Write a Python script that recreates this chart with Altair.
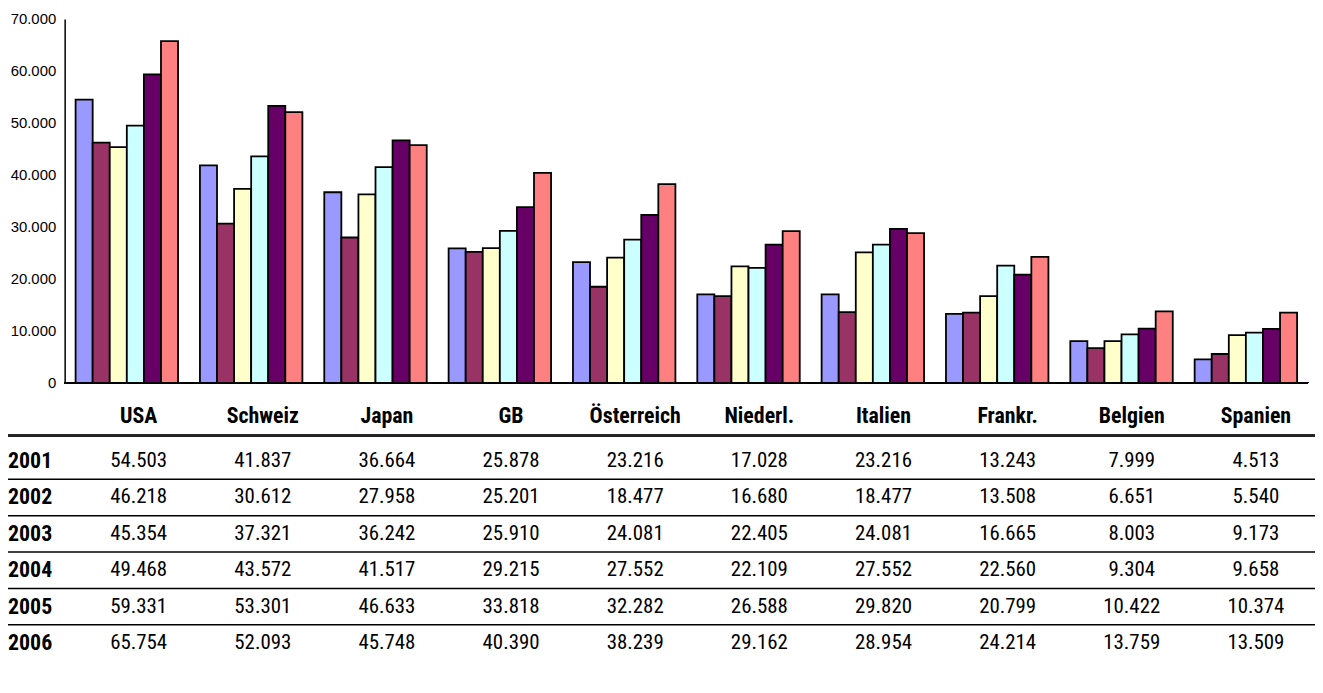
import altair as alt
import pandas as pd

countries = ["USA", "Schweiz", "Japan", "GB", "Österreich", "Niederl.",
             "Italien", "Frankr.", "Belgien", "Spanien"]
years = ["2001", "2002", "2003", "2004", "2005", "2006"]
colors = ["#9999FF", "#993366", "#FFFFCC", "#CCFFFF", "#660066", "#FF8080"]

# values printed in the table
t2001 = [54503, 41837, 36664, 25878, 23216, 17028, 23216, 13243, 7999, 4513]
t2002 = [46218, 30612, 27958, 25201, 18477, 16680, 18477, 13508, 6651, 5540]
t2003 = [45354, 37321, 36242, 25910, 24081, 22405, 24081, 16665, 8003, 9173]
t2004 = [49468, 43572, 41517, 29215, 27552, 22109, 27552, 22560, 9304, 9658]
t2005 = [59331, 53301, 46633, 33818, 32282, 26588, 29820, 20799, 10422, 10374]
t2006 = [65754, 52093, 45748, 40390, 38239, 29162, 28954, 24214, 13759, 13509]
table_vals = [t2001, t2002, t2003, t2004, t2005, t2006]

# bar heights as drawn (Italien bars differ from the printed table)
italien_bars = [17000, 13600, 25100, 26600, 29600, 28800]

y_ticks = [0, 10000, 20000, 30000, 40000, 50000, 60000, 70000]

NARROW = "Liberation Sans Narrow, Arial Narrow, Roboto Condensed, Liberation Sans, sans-serif"


def de(v):
    return f"{v:,}".replace(",", ".")


bar_rows = []
cell_rows = []
for yi, yr in enumerate(years):
    for ci, c in enumerate(countries):
        val = table_vals[yi][ci]
        bar_val = italien_bars[yi] if c == "Italien" else val
        bar_rows.append({"country": c, "year": yr, "value": bar_val})
        cell_rows.append({"country": c, "row": yr, "label": de(val)})
bars_df = pd.DataFrame(bar_rows)
cells_df = pd.DataFrame(cell_rows)
hdr_df = pd.DataFrame({"country": countries})
rowlab_df = pd.DataFrame({"row": years})
rules_df = pd.DataFrame({"row": years[1:]})

W = 1251
H = 659

yscale_bars = alt.Scale(domain=[0, 70000], range=[366, 0], nice=False)

bars = alt.Chart(bars_df).mark_bar(stroke="black", strokeWidth=1.8).encode(
    x=alt.X("country:N", sort=countries, axis=None,
            scale=alt.Scale(paddingInner=0.176, paddingOuter=0.088)),
    xOffset=alt.XOffset("year:N", sort=years, scale=alt.Scale(paddingInner=0, paddingOuter=0)),
    y=alt.Y("value:Q", scale=yscale_bars,
            axis=alt.Axis(values=y_ticks, title=None, ticks=False, grid=False,
                          domainColor="black", domainWidth=1.5,
                          labelExpr="replace(format(datum.value, ','), ',', '.')",
                          labelFont="Liberation Sans", labelFontSize=15,
                          labelColor="black", labelPadding=9)),
    color=alt.Color("year:N", scale=alt.Scale(domain=years, range=colors), legend=None),
)

baseline = alt.Chart(bars_df).mark_rule(color="black", strokeWidth=1.5).encode(
    y=alt.datum(0)
)

top = alt.layer(bars, baseline)

xs_table = alt.Scale(domain=countries, range=[12, 1261], paddingInner=0, paddingOuter=0)
ys_table = alt.Scale(domain=years, range=[426.5, 646.1], paddingInner=0, paddingOuter=0)

cells = alt.Chart(cells_df).mark_text(font=NARROW, fontSize=21, color="black").encode(
    x=alt.X("country:N", sort=countries, axis=None, scale=xs_table),
    y=alt.Y("row:N", axis=None, scale=ys_table),
    text="label:N",
)

header = alt.Chart(hdr_df).mark_text(font=NARROW, fontSize=22, fontWeight="bold",
                                     color="black").encode(
    x=alt.X("country:N", sort=countries, axis=None, scale=xs_table),
    y=alt.value(399),
    text="country:N",
)

header_line = alt.Chart(hdr_df).mark_rule(color="#222222", strokeWidth=2.2).encode(
    x=alt.value(-57),
    x2=alt.value(W + 7),
    y=alt.value(419.5),
)

rowlabels = alt.Chart(rowlab_df).mark_text(font=NARROW, fontSize=22, fontWeight="bold",
                                           color="black", align="left").encode(
    x=alt.value(-57),
    y=alt.Y("row:N", axis=None, scale=ys_table),
    text="row:N",
)

rules = alt.Chart(rules_df).mark_rule(color="black", strokeWidth=1.5).encode(
    x=alt.value(-57),
    x2=alt.value(W + 7),
    y=alt.Y("row:N", axis=None, scale=ys_table, bandPosition=0),
)

table = alt.layer(header_line, rules, cells, header, rowlabels)

chart = alt.layer(top, table).resolve_scale(x="independent", y="independent").properties(
    width=W, height=H,
    background="white",
    autosize=alt.AutoSizeParams(type="none"),
    padding={"left": 57, "top": 9, "right": 7, "bottom": 9},
).configure_view(stroke=None)

chart.save("out.html", embed_options={"renderer": "svg", "actions": False})
